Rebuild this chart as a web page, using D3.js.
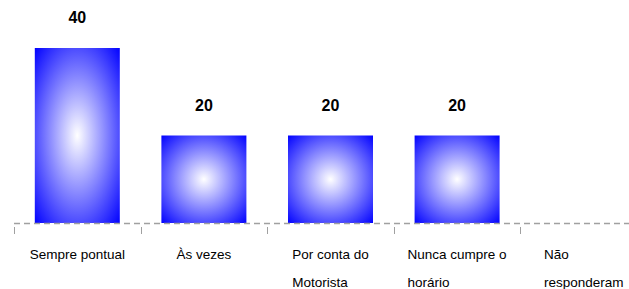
<!DOCTYPE html>
<html>
<head>
<meta charset="utf-8">
<script src="https://cdn.jsdelivr.net/npm/d3@7"></script>
<style>
  body { margin: 0; background: #fff; }
  text { font-family: "Liberation Sans", Arial, sans-serif; }
</style>
</head>
<body>
<div id="graph"></div>
<script>
const width = 629;
const height = 289;

const categories = [
  ["Sempre pontual"],
  ["Às vezes"],
  ["Por conta do", "Motorista"],
  ["Nunca cumpre o", "horário"],
  ["Não", "responderam"]
];
const values = [40, 20, 20, 20, null];

const svg = d3.select("#graph")
  .append("svg")
  .attr("width", width)
  .attr("height", height)
  .style("background", "#ffffff");

// radial white-to-blue fill, like the old office charts
const grad = svg.append("defs").append("radialGradient")
  .attr("id", "blueGlow")
  .attr("cx", 0.5).attr("cy", 0.5).attr("r", 0.71);
grad.append("stop").attr("offset", "0%").attr("stop-color", "#ffffff");
grad.append("stop").attr("offset", "100%").attr("stop-color", "#0000ff");

const baseY = 223;
const band = 126.6;
const barW = 85;

const x = d3.scaleBand()
  .domain(d3.range(categories.length))
  .range([14, 14 + band * categories.length]);

const y = d3.scaleLinear()
  .domain([0, 40])
  .range([baseY, 48]);

const barData = values.map((v, i) => ({ v, i })).filter(d => d.v != null);

// bars
svg.selectAll("rect.bar")
  .data(barData)
  .enter()
  .append("rect")
  .attr("class", "bar")
  .attr("x", d => x(d.i) + (x.bandwidth() - barW) / 2)
  .attr("width", barW)
  .attr("y", d => y(d.v))
  .attr("height", d => baseY - y(d.v))
  .attr("fill", "url(#blueGlow)");

// value labels
svg.selectAll("text.val")
  .data(barData)
  .enter()
  .append("text")
  .attr("class", "val")
  .attr("x", d => x(d.i) + x.bandwidth() / 2)
  .attr("y", d => y(d.v) - 25)
  .attr("text-anchor", "middle")
  .attr("font-size", 16)
  .attr("font-weight", "bold")
  .attr("fill", "#000")
  .text(d => d.v);

// dashed baseline
svg.append("line")
  .attr("x1", 14).attr("x2", width)
  .attr("y1", baseY + 0.5).attr("y2", baseY + 0.5)
  .attr("stroke", "#a0a0a0")
  .attr("stroke-width", 1.3)
  .attr("stroke-dasharray", "6,4");

// tick marks between categories
svg.selectAll("line.tick")
  .data(d3.range(categories.length))
  .enter()
  .append("line")
  .attr("class", "tick")
  .attr("x1", i => Math.round(x(i)) + 0.5)
  .attr("x2", i => Math.round(x(i)) + 0.5)
  .attr("y1", 227).attr("y2", 234)
  .attr("stroke", "#a0a0a0")
  .attr("stroke-width", 1);

// category labels: lines left aligned, block centred in band
const labels = svg.selectAll("g.lab")
  .data(categories)
  .enter()
  .append("g")
  .attr("class", "lab");

labels.each(function(lines, i) {
  const g = d3.select(this);
  const t = g.append("text")
    .attr("font-size", 13.5)
    .attr("fill", "#000");
  lines.forEach((line, j) => {
    t.append("tspan")
      .attr("x", 0)
      .attr("y", 259 + j * 28)
      .text(line);
  });
  const w = t.node().getBBox().width;
  g.attr("transform", `translate(${x(i) + x.bandwidth() / 2 - w / 2}, 0)`);
});
</script>
</body>
</html>
